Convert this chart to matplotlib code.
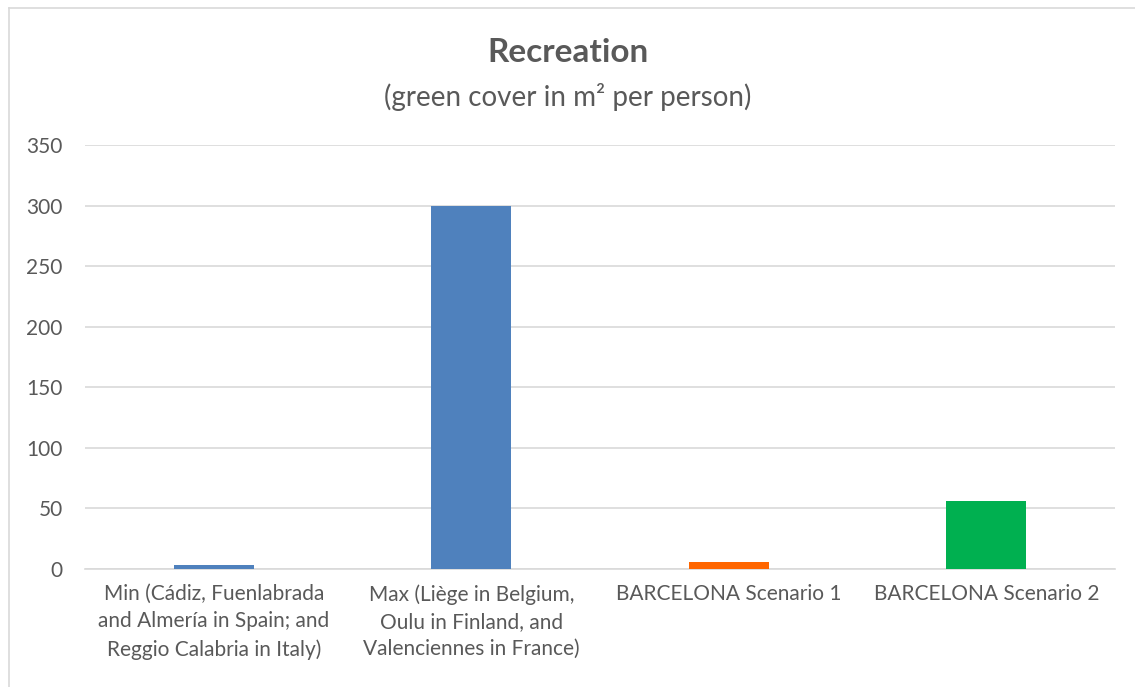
import matplotlib.pyplot as plt
from matplotlib.lines import Line2D

# Green cover per person for the reference cities and the two Barcelona scenarios
categories = [
    "Min (Cádiz, Fuenlabrada\nand Almería in Spain; and\nReggio Calabria in Italy)",
    "Max (Liège in Belgium,\nOulu in Finland, and\nValenciennes in France)",
    "BARCELONA Scenario 1",
    "BARCELONA Scenario 2",
]
values = [3, 300, 6, 56]
colors = ["#4f81bd", "#4f81bd", "#ff6600", "#00b050"]
y_ticks = [0, 50, 100, 150, 200, 250, 300, 350]

plt.rcParams['font.family'] = ['Lato', 'DejaVu Sans']
text_color = "#595959"
grid_color = "#d9d9d9"

fig = plt.figure(figsize=(11.35, 6.87), dpi=100)
ax = fig.add_axes([0.0749, 0.1718, 0.9075, 0.6172])

x = range(len(categories))
ax.bar(x, values, width=0.31, color=colors, zorder=3)

ax.set_xlim(-0.5, len(categories) - 0.5)
ax.set_ylim(0, 350)
ax.set_yticks(y_ticks)
ax.set_xticks(list(x))
ax.set_xticklabels(categories, linespacing=1.45, multialignment='center')
ax.yaxis.grid(True, color=grid_color, linewidth=1.2, zorder=0)
ax.tick_params(axis='both', length=0, labelsize=15, colors=text_color)
ax.tick_params(axis='y', pad=16)
ax.tick_params(axis='x', pad=11)
for side in ['top', 'right', 'left']:
    ax.spines[side].set_visible(False)
ax.spines['bottom'].set_color(grid_color)
ax.spines['bottom'].set_linewidth(1.2)

fig.text(0.5, 0.924, "Recreation", ha='center', va='center',
         fontsize=24, fontweight='bold', color=text_color)
fig.text(0.5, 0.859, "(green cover in m² per person)", ha='center', va='center',
         fontsize=20, color=text_color)

# light chart frame on the left and top
fig.add_artist(Line2D([9 / 1135, 9 / 1135], [0, 1 - 8 / 687],
                      transform=fig.transFigure, color=grid_color, linewidth=1.2))
fig.add_artist(Line2D([9 / 1135, 1], [1 - 8 / 687, 1 - 8 / 687],
                      transform=fig.transFigure, color=grid_color, linewidth=1.2))

fig.savefig("out.png", dpi=100)
